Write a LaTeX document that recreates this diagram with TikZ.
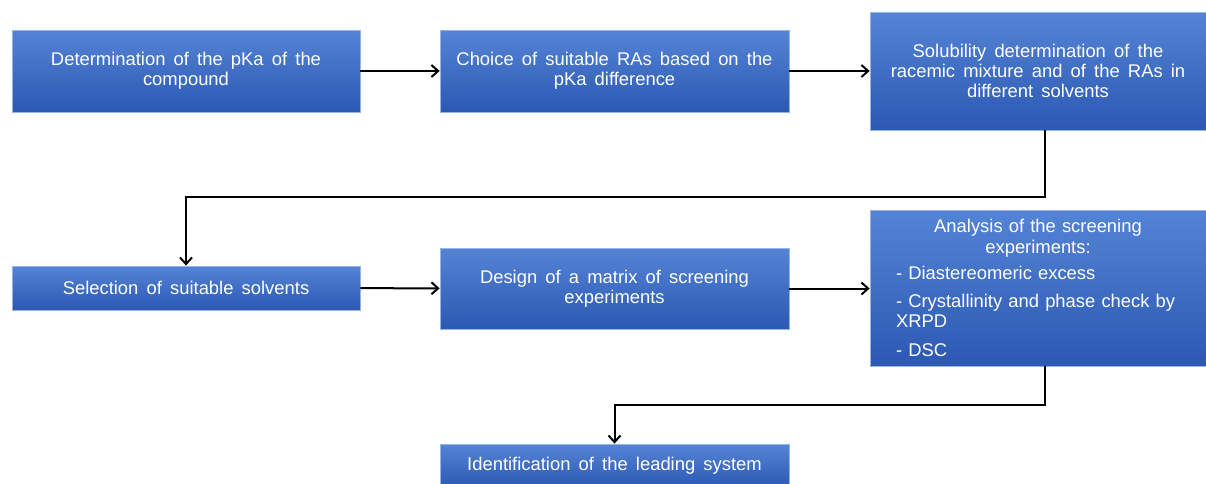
\documentclass[tikz,border=0pt]{standalone}
\usepackage{fontspec}
\setmainfont{Liberation Sans}[WordSpace=1.6]
\usetikzlibrary{arrows.meta}

\definecolor{boxtop}{RGB}{84,132,214}
\definecolor{boxbot}{RGB}{44,88,178}
\definecolor{boxrim}{RGB}{150,180,230}

\tikzset{
  stepbox/.style={draw=boxrim,line width=0.6pt,top color=boxtop,bottom color=boxbot,
    text=white,align=center,inner sep=2pt,
    font=\fontsize{13.8}{15.2}\selectfont},
  flow/.style={line width=1.5pt,black,-{Straight Barb[length=5pt,width=9pt]}}
}

\begin{document}
\begin{tikzpicture}[x=0.75pt,y=0.75pt,yscale=-1,xscale=1]
			\useasboundingbox (0,0) rectangle (1206,483);
			
			\node [stepbox,minimum width=261pt,minimum height=61.5pt] (pka) at (186,71) {Determination of the pKa of the\\compound};
			\node [stepbox,minimum width=261.75pt,minimum height=61.5pt] (ras) at (614.5,71) {Choice of suitable RAs based on the\\pKa difference};
			\node [stepbox,minimum width=252pt,minimum height=88.5pt] (sol) at (1038,71) {Solubility determination of the\\racemic mixture and of the RAs in\\different solvents};
			\node [stepbox,minimum width=261pt,minimum height=33pt] (sel) at (186,288) {Selection of suitable solvents};
			\node [stepbox,minimum width=261.75pt,minimum height=60.75pt] (mat) at (614.5,288.5) {Design of a matrix of screening\\experiments};
			\node [stepbox,minimum width=252pt,minimum height=117pt,text width=213pt,align=left] (ana) at (1038,288)
			  {{\centering Analysis of the screening\\experiments:\par}
			   \vspace{4.5pt}- Diastereomeric excess\par
			   \vspace{6pt}- Crystallinity and phase check by\\XRPD\par
			   \vspace{6pt}- DSC};
			\node [stepbox,minimum width=261.75pt,minimum height=33pt] (lead) at (614.5,466) {Identification of the leading system};
			
			\coordinate (k1) at (1045,197);
			\coordinate (k2) at (1045,405);
			
			\draw [flow] (pka) -- (ras);
			\draw [flow] (ras) -- (sol.west |- ras);
			\draw [flow] (sol.south -| k1) -- (k1) -| (sel.north);
			\draw [flow] (sel) -- (mat);
			\draw [flow] (mat) -- (ana.west |- mat);
			\draw [flow] (ana.south -| k2) -- (k2) -| (lead.north);
			\end{tikzpicture}
\end{document}
